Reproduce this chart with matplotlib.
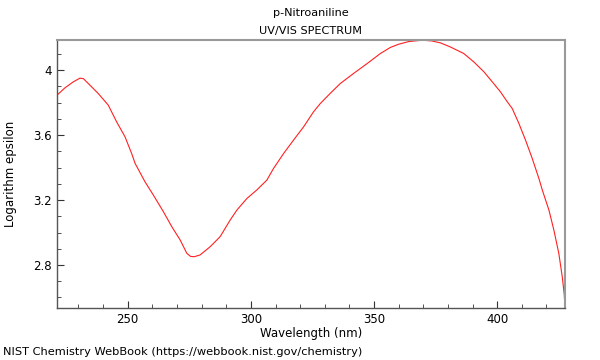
import matplotlib
matplotlib.use('Agg')
import matplotlib.pyplot as plt
from matplotlib.ticker import MultipleLocator

# Spectrum points (wavelength nm, log epsilon)
wavelength = [221.3, 224.5, 227.9, 230.6, 232.0, 234.0, 238.0, 242.1, 245.5, 248.9,
              251.6, 253.0, 257.0, 260.4, 264.5, 267.9, 271.3, 274.0, 275.5, 277.0,
              279.4, 283.5, 287.5, 291.6, 294.3, 298.4, 302.4, 306.5, 309.2, 313.3,
              317.3, 321.4, 325.4, 328.2, 332.2, 336.3, 341.7, 347.2, 352.6, 356.6,
              360.0, 364.0, 369.5, 373.5, 377.0, 381.0, 386.4, 390.5, 394.6, 398.0,
              401.3, 404.1, 406.1, 408.8, 411.5, 414.2, 416.9, 418.3, 421.0, 423.0,
              425.0, 426.4, 427.2, 427.5]
log_eps = [3.846, 3.891, 3.928, 3.951, 3.948, 3.918, 3.857, 3.785, 3.682, 3.590,
           3.487, 3.426, 3.313, 3.231, 3.128, 3.036, 2.954, 2.872, 2.853, 2.851,
           2.862, 2.913, 2.974, 3.077, 3.138, 3.210, 3.262, 3.323, 3.395, 3.487,
           3.569, 3.651, 3.743, 3.795, 3.857, 3.918, 3.980, 4.041, 4.103, 4.140,
           4.160, 4.176, 4.185, 4.180, 4.168, 4.143, 4.103, 4.051, 3.990, 3.928,
           3.867, 3.805, 3.764, 3.672, 3.569, 3.457, 3.334, 3.262, 3.138, 3.015,
           2.872, 2.728, 2.620, 2.543]

title = 'p-Nitroaniline'
subtitle = 'UV/VIS SPECTRUM'
footer = 'NIST Chemistry WebBook (https://webbook.nist.gov/chemistry)'

fig = plt.figure(figsize=(6, 3.6), dpi=100)
ax = fig.add_axes([0.095, 0.1444, 0.847, 0.7445])

ax.plot(wavelength, log_eps, color='#ff2020', linewidth=0.8)
ax.set_xlim(221.3, 427.6)
ax.set_ylim(2.535, 4.186)

ax.xaxis.set_major_locator(MultipleLocator(50))
ax.xaxis.set_minor_locator(MultipleLocator(10))
ax.yaxis.set_major_locator(MultipleLocator(0.4))
ax.yaxis.set_minor_locator(MultipleLocator(0.1))
ax.yaxis.set_major_formatter(matplotlib.ticker.FuncFormatter(lambda v, p: f'{v:g}'))

ax.tick_params(which='both', direction='in', colors='#333333', labelcolor='black',
               labelsize=8.5, top=False, right=False)
ax.tick_params(which='major', length=5, width=0.8)
ax.tick_params(which='minor', length=3, width=0.6)
for s in ax.spines.values():
    s.set_color('#999999')
    s.set_linewidth(1.5)
ax.spines['left'].set_color('#555555')
ax.spines['bottom'].set_color('#555555')
ax.spines['left'].set_linewidth(1.0)
ax.spines['bottom'].set_linewidth(1.0)

ax.set_xlabel('Wavelength (nm)', fontsize=8.5, labelpad=1)
ax.set_ylabel('Logarithm epsilon', fontsize=8.5, labelpad=12)

fig.text(0.518, 0.965, title, ha='center', va='center', fontsize=8.1)
fig.text(0.518, 0.915, subtitle, ha='center', va='center', fontsize=8.1)
fig.text(0.005, 0.022, footer, ha='left', va='center', fontsize=8.2)

fig.savefig('out.png', dpi=100)
